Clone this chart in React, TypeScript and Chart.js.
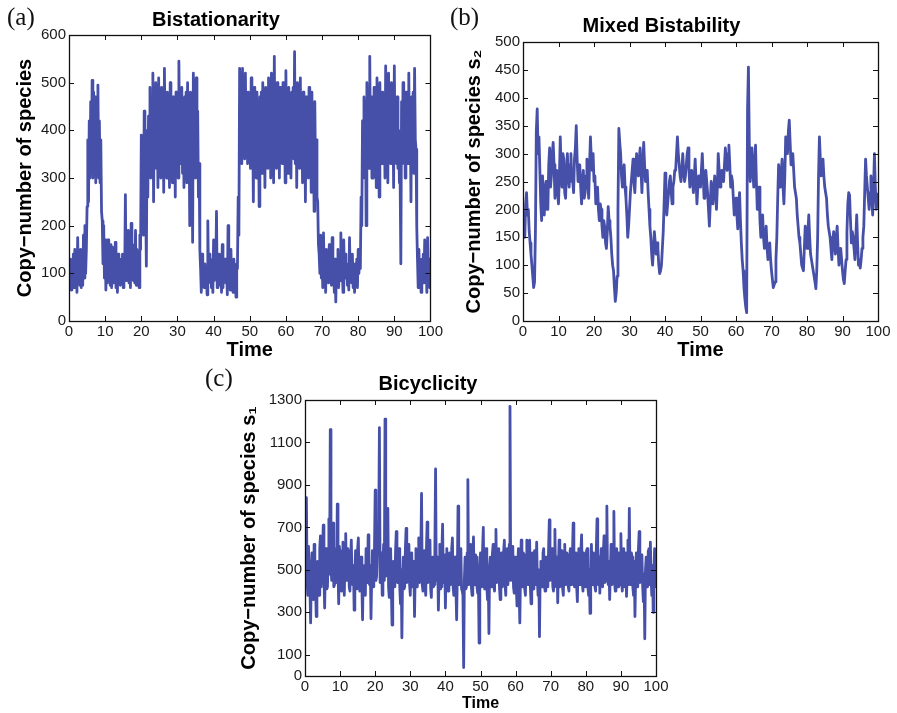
import React, { useEffect, useRef } from 'react';
import { Chart, registerables } from 'chart.js';

Chart.register(...registerables);

const SANS = "'Liberation Sans', Arial, Helvetica, sans-serif";
const SERIF = "'Liberation Serif', 'Times New Roman', serif";
const LINE_COLOR = '#4750a9';
const TICK_COLOR = '#1a1a1a';

// ---------- shared ----------
const TIME_TICKS = [0, 10, 20, 30, 40, 50, 60, 70, 80, 90, 100];
const X_LABEL = 'Time';

// ---------- panel (a) ----------
const A_TITLE = 'Bistationarity';
const A_Y_LABEL = 'Copy−number of species';
const A_Y_TICKS = [0, 100, 200, 300, 400, 500, 600];
// time 0..100, step 0.2
const A_VALUES = [
  120, 70, 130, 65, 110, 75, 140, 70, 150, 85, 130, 60, 175, 80, 140, 75, 150, 70, 130, 75,
  180, 90, 200, 100, 150, 240, 380, 250, 420, 300, 460, 320, 505, 300, 480, 330, 470, 290, 450, 310,
  495, 300, 420, 290, 380, 230, 210, 120, 200, 90, 170, 65, 140, 80, 170, 95, 150, 75, 160, 70,
  155, 80, 140, 85, 165, 70, 120, 60, 140, 90, 130, 75, 130, 80, 140, 70, 110, 90, 265, 85,
  150, 100, 190, 80, 130, 70, 205, 95, 160, 85, 150, 80, 190, 75, 150, 110, 120, 70, 180, 150,
  390, 220, 300, 180, 440, 200, 260, 115, 400, 260, 430, 310, 490, 300, 470, 330, 520, 250, 460, 340,
  500, 320, 470, 280, 510, 330, 480, 300, 490, 310, 460, 270, 530, 340, 470, 300, 480, 300, 450, 280,
  500, 320, 460, 290, 470, 290, 430, 260, 480, 330, 470, 300, 545, 360, 480, 330, 490, 310, 460, 280,
  470, 320, 480, 290, 500, 330, 420, 200, 480, 280, 400, 165, 520, 340, 470, 300, 510, 330, 440, 260,
  330, 150, 110, 60, 140, 80, 120, 70, 120, 75, 100, 55, 210, 80, 140, 120, 130, 70, 110, 60,
  170, 85, 150, 90, 230, 70, 130, 110, 140, 75, 120, 60, 160, 70, 130, 90, 130, 80, 110, 55,
  200, 90, 130, 65, 150, 80, 110, 60, 130, 75, 90, 50, 120, 110, 260, 180, 530, 360, 490, 330,
  530, 350, 490, 340, 520, 360, 480, 330, 480, 340, 470, 320, 510, 330, 420, 250, 490, 350, 470, 300,
  480, 300, 430, 240, 470, 340, 480, 310, 500, 330, 450, 280, 490, 350, 470, 320, 510, 340, 460, 300,
  520, 340, 470, 290, 555, 360, 480, 320, 500, 340, 470, 300, 490, 350, 480, 330, 500, 330, 460, 290,
  525, 350, 470, 310, 490, 340, 460, 300, 480, 360, 490, 340, 565, 330, 450, 280, 500, 350, 480, 320,
  510, 330, 460, 290, 480, 300, 430, 250, 470, 340, 460, 300, 490, 320, 450, 270, 480, 300, 420, 230,
  460, 300, 380, 260, 250, 160, 140, 100, 180, 90, 130, 70, 185, 100, 120, 60, 150, 90, 140, 80,
  160, 90, 130, 75, 175, 80, 110, 60, 130, 40, 120, 80, 150, 70, 120, 85, 185, 100, 110, 60,
  170, 95, 140, 90, 120, 75, 110, 65, 175, 95, 130, 80, 140, 70, 110, 60, 120, 80, 130, 70,
  150, 100, 140, 110, 260, 200, 420, 330, 470, 300, 460, 200, 500, 350, 470, 320, 555, 360, 470, 300,
  450, 300, 490, 330, 470, 280, 510, 340, 440, 260, 500, 350, 480, 330, 480, 340, 470, 300, 535, 350,
  460, 290, 520, 350, 480, 330, 500, 330, 460, 280, 535, 350, 470, 330, 470, 320, 400, 290, 300, 120,
  460, 330, 500, 340, 470, 300, 480, 350, 480, 330, 520, 330, 440, 250, 470, 330, 480, 310, 530, 380,
  360, 200, 130, 70, 150, 80, 110, 60, 130, 80, 140, 80, 170, 90, 120, 60, 175, 100, 130, 70,
  100,
];

// ---------- panel (b) ----------
const B_TITLE = 'Mixed Bistability';
const B_Y_LABEL = 'Copy−number of species s₂';
const B_Y_TICKS = [0, 50, 100, 150, 200, 250, 300, 350, 400, 450, 500];
// time 0..100, step 0.25
const B_VALUES = [
  190, 170, 150, 210, 230, 190, 200, 160, 140, 120, 100, 80, 60, 70, 160, 340, 380, 300, 330, 270,
  210, 180, 260, 220, 190, 240, 250, 200, 200, 280, 310, 240, 260, 300, 320, 280, 220, 250, 270, 230,
  210, 260, 330, 270, 240, 300, 290, 230, 220, 270, 300, 260, 240, 280, 300, 250, 250, 230, 290, 310,
  350, 290, 250, 270, 280, 240, 210, 250, 270, 220, 230, 260, 290, 250, 220, 280, 330, 290, 270, 300,
  250, 260, 210, 230, 240, 200, 180, 210, 200, 170, 150, 180, 170, 140, 130, 160, 205, 180, 170, 150,
  120, 100, 90, 60, 35, 50, 80, 200, 345, 320, 300, 260, 240, 270, 280, 240, 220, 190, 150, 170,
  200, 230, 250, 270, 290, 250, 230, 270, 300, 270, 260, 290, 310, 270, 230, 280, 320, 280, 250, 270,
  270, 230, 200, 170, 150, 120, 100, 130, 160, 140, 120, 140, 130, 100, 85, 90, 100, 130, 160, 210,
  265, 220, 190, 210, 230, 250, 260, 230, 210, 240, 250, 270, 270, 300, 330, 300, 280, 260, 250, 270,
  300, 270, 250, 260, 280, 300, 310, 270, 240, 260, 270, 250, 230, 260, 290, 250, 210, 240, 260, 250,
  240, 270, 300, 260, 220, 250, 270, 250, 230, 200, 170, 210, 250, 230, 210, 240, 260, 230, 200, 240,
  300, 270, 240, 250, 270, 260, 250, 280, 310, 290, 270, 300, 315, 280, 240, 260, 250, 220, 190, 210,
  220, 190, 165, 200, 230, 180, 140, 110, 90, 60, 40, 25, 15, 380, 455, 320, 250, 280, 310, 270,
  240, 280, 315, 250, 200, 220, 240, 180, 150, 170, 190, 150, 130, 150, 170, 130, 110, 120, 140, 110,
  90, 75, 60, 65, 70, 110, 150, 220, 280, 260, 240, 270, 290, 240, 210, 260, 330, 310, 300, 340,
  360, 320, 280, 290, 300, 270, 240, 230, 220, 190, 170, 150, 140, 120, 100, 95, 90, 130, 170, 150,
  130, 160, 190, 150, 120, 110, 100, 90, 80, 70, 58, 90, 150, 260, 330, 290, 260, 270, 290, 260,
  240, 230, 220, 190, 170, 160, 150, 130, 110, 140, 160, 140, 120, 150, 170, 130, 100, 120, 130, 110,
  90, 75, 67, 90, 110, 160, 210, 230, 225, 180, 140, 160, 150, 130, 110, 150, 190, 140, 100, 110,
  95, 110, 130, 150, 170, 230, 290, 260, 240, 220, 200, 230, 260, 220, 190, 240, 300, 240, 200, 210,
  230,
];

// ---------- panel (c) ----------
const C_TITLE = 'Bicyclicity';
const C_Y_LABEL = 'Copy−number of species s₁';
const C_Y_TICKS = [0, 100, 300, 500, 700, 900, 1100, 1300];
// time 0..100, step 0.2
const C_VALUES = [
  730, 520, 840, 450, 380, 610, 500, 420, 250, 470, 580, 400, 360, 620, 560, 430, 280, 490, 540, 410,
  380, 600, 660, 420, 420, 590, 710, 460, 320, 520, 600, 410, 420, 560, 740, 480, 1160, 520, 450, 610,
  720, 420, 430, 580, 600, 440, 810, 500, 340, 610, 560, 410, 400, 590, 630, 430, 380, 560, 670, 450,
  450, 600, 580, 420, 400, 560, 640, 440, 430, 520, 310, 480, 590, 410, 420, 600, 650, 450, 400, 560,
  560, 430, 265, 500, 520, 410, 380, 600, 600, 440, 665, 480, 430, 520, 270, 460, 590, 420, 440, 610,
  875, 450, 470, 590, 600, 700, 1170, 440, 500, 580, 380, 520, 620, 450, 1210, 470, 480, 560, 790, 420,
  370, 560, 600, 410, 240, 500, 540, 420, 430, 590, 680, 450, 440, 580, 600, 420, 340, 500, 180, 470,
  560, 410, 420, 600, 695, 440, 450, 580, 620, 430, 380, 560, 580, 420, 440, 540, 280, 480, 600, 430,
  420, 590, 650, 440, 470, 580, 860, 430, 400, 560, 590, 420, 380, 600, 725, 440, 450, 580, 640, 410,
  370, 540, 560, 420, 430, 600, 975, 450, 480, 560, 310, 470, 620, 410, 420, 590, 715, 440, 450, 570,
  320, 500, 600, 420, 400, 570, 580, 430, 440, 600, 650, 420, 380, 560, 560, 410, 265, 480, 800, 430,
  430, 580, 600, 410, 400, 380, 40, 450, 560, 410, 420, 580, 925, 430, 450, 590, 620, 420, 380, 560,
  655, 440, 430, 570, 560, 420, 390, 460, 155, 520, 580, 420, 440, 600, 700, 430, 410, 560, 600, 420,
  360, 480, 200, 520, 560, 420, 430, 580, 620, 420, 400, 560, 690, 440, 450, 590, 600, 420, 360, 540,
  580, 420, 420, 590, 640, 430, 380, 560, 600, 430, 480, 620, 1270, 450, 460, 580, 610, 420, 390, 560,
  560, 420, 330, 520, 600, 410, 250, 480, 640, 430, 420, 580, 570, 410, 380, 560, 640, 440, 430, 590,
  640, 420, 340, 540, 580, 420, 410, 590, 560, 430, 630, 450, 380, 500, 185, 470, 540, 420, 420, 580,
  600, 430, 400, 560, 560, 420, 440, 600, 735, 450, 460, 580, 600, 420, 400, 570, 690, 440, 420, 560,
  345, 520, 640, 420, 430, 590, 580, 410, 380, 560, 620, 430, 440, 580, 560, 420, 400, 560, 600, 430,
  460, 580, 720, 440, 420, 570, 580, 420, 350, 520, 600, 430, 430, 590, 665, 440, 400, 580, 560, 420,
  440, 590, 600, 420, 380, 500, 295, 480, 620, 430, 450, 580, 560, 420, 400, 600, 740, 450, 430, 560,
  390, 540, 600, 430, 420, 580, 660, 440, 450, 600, 800, 460, 430, 540, 360, 500, 620, 430, 440, 590,
  775, 440, 400, 570, 600, 430, 420, 580, 560, 430, 670, 450, 400, 560, 600, 420, 440, 580, 375, 500,
  640, 430, 790, 460, 430, 580, 560, 420, 380, 540, 280, 470, 580, 430, 420, 600, 680, 440, 460, 570,
  560, 420, 350, 480, 175, 500, 560, 420, 420, 590, 600, 430, 630, 460, 380, 520, 300, 480, 600, 420,
  450,
];

// ---------- drawing helpers ----------
const framePlugin = {
  id: 'matlabFrame',
  afterDatasetsDraw(chart: any) {
    const { ctx, chartArea, scales } = chart;
    const { left, right, top, bottom } = chartArea;
    const x = scales.x;
    const y = scales.y;
    const L = 5;
    ctx.save();
    ctx.strokeStyle = '#111111';
    ctx.lineWidth = 1;
    ctx.beginPath();
    x.ticks.forEach((t: any) => {
      const px = Math.round(x.getPixelForValue(t.value)) + 0.5;
      ctx.moveTo(px, bottom);
      ctx.lineTo(px, bottom - L);
      ctx.moveTo(px, top);
      ctx.lineTo(px, top + L);
    });
    y.ticks.forEach((t: any) => {
      const py = Math.round(y.getPixelForValue(t.value)) + 0.5;
      ctx.moveTo(left, py);
      ctx.lineTo(left + L, py);
      ctx.moveTo(right, py);
      ctx.lineTo(right - L, py);
    });
    ctx.stroke();
    ctx.lineWidth = 1.3;
    ctx.strokeRect(Math.round(left) + 0.5, Math.round(top) + 0.5, Math.round(right - left), Math.round(bottom - top));
    ctx.restore();
  },
};

type Layout = {
  yWidth: number;
  xHeight: number;
  padRight: number;
  titleTop: number;
  titleBottom: number;
  yTitlePad: number;
  xTitleSize: number;
  xTitlePadBottom: number;
};

function makeConfig(
  title: string,
  yLabel: string,
  values: number[],
  yTicks: number[],
  lay: Layout
): any {
  const n = values.length;
  const points = values.map((v, i) => ({ x: (i * 100) / (n - 1), y: v }));
  const yMax = yTicks[yTicks.length - 1];
  return {
    type: 'line',
    data: {
      datasets: [
        {
          data: points,
          borderColor: LINE_COLOR,
          borderWidth: 2.8,
          borderJoinStyle: 'round',
          pointRadius: 0,
          tension: 0,
          fill: false,
        },
      ],
    },
    options: {
      responsive: false,
      animation: false,
      events: [],
      layout: { padding: { left: 0, right: lay.padRight, top: 0, bottom: 0 } },
      plugins: {
        legend: { display: false },
        tooltip: { enabled: false },
        title: {
          display: true,
          text: title,
          color: '#000000',
          font: { family: SANS, size: 20, weight: 'bold', lineHeight: 1.2 },
          padding: { top: lay.titleTop, bottom: lay.titleBottom },
        },
      },
      scales: {
        x: {
          type: 'linear',
          min: 0,
          max: 100,
          afterBuildTicks: (s: any) => {
            s.ticks = TIME_TICKS.map((v) => ({ value: v }));
          },
          afterFit: (s: any) => {
            s.height = lay.xHeight;
          },
          grid: { display: false, drawTicks: false, tickLength: 0 },
          border: { display: false },
          ticks: {
            autoSkip: false,
            maxRotation: 0,
            padding: 2,
            color: TICK_COLOR,
            font: { family: SANS, size: 15 },
            callback: (v: any) => String(v),
          },
          title: {
            display: true,
            text: X_LABEL,
            color: '#000000',
            font: { family: SANS, size: lay.xTitleSize, weight: 'bold', lineHeight: 1.2 },
            padding: { top: 0, bottom: lay.xTitlePadBottom },
          },
        },
        y: {
          type: 'linear',
          min: 0,
          max: yMax,
          afterBuildTicks: (s: any) => {
            s.ticks = yTicks.map((v) => ({ value: v }));
          },
          afterFit: (s: any) => {
            s.width = lay.yWidth;
          },
          grid: { display: false, drawTicks: false, tickLength: 0 },
          border: { display: false },
          ticks: {
            autoSkip: false,
            padding: 3,
            color: TICK_COLOR,
            font: { family: SANS, size: 15 },
            callback: (v: any) => String(v),
          },
          title: {
            display: true,
            text: yLabel,
            color: '#000000',
            font: { family: SANS, size: 20, weight: 'bold', lineHeight: 1.2 },
            padding: { top: lay.yTitlePad, bottom: 0 },
          },
        },
      },
    },
    plugins: [framePlugin],
  };
}

const panelLabelStyle = (left: number, top: number): React.CSSProperties => ({
  position: 'absolute',
  left,
  top,
  fontFamily: SERIF,
  fontSize: 25,
  lineHeight: '25px',
  color: '#111',
  margin: 0,
});

export default function App() {
  const aRef = useRef<HTMLCanvasElement>(null);
  const bRef = useRef<HTMLCanvasElement>(null);
  const cRef = useRef<HTMLCanvasElement>(null);

  useEffect(() => {
    const charts: Chart[] = [];
    if (aRef.current) {
      charts.push(
        new Chart(
          aRef.current,
          makeConfig(A_TITLE, A_Y_LABEL, A_VALUES, A_Y_TICKS, {
            yWidth: 69,
            xHeight: 41,
            padRight: 13,
            titleTop: 8,
            titleBottom: 3,
            yTitlePad: 13,
            xTitleSize: 20,
            xTitlePadBottom: 0,
          })
        )
      );
    }
    if (bRef.current) {
      charts.push(
        new Chart(
          bRef.current,
          makeConfig(B_TITLE, B_Y_LABEL, B_VALUES, B_Y_TICKS, {
            yWidth: 78,
            xHeight: 41,
            padRight: 19,
            titleTop: 14,
            titleBottom: 4,
            yTitlePad: 17,
            xTitleSize: 20,
            xTitlePadBottom: 0,
          })
        )
      );
    }
    if (cRef.current) {
      charts.push(
        new Chart(
          cRef.current,
          makeConfig(C_TITLE, C_Y_LABEL, C_VALUES, C_Y_TICKS, {
            yWidth: 105,
            xHeight: 37,
            padRight: 24,
            titleTop: 10,
            titleBottom: 4,
            yTitlePad: 37,
            xTitleSize: 16,
            xTitlePadBottom: 0,
          })
        )
      );
    }
    return () => {
      charts.forEach((c) => c.destroy());
    };
  }, []);

  return (
    <div style={{ position: 'absolute', left: 0, top: 0, width: 897, height: 713, background: '#ffffff', overflow: 'hidden' }}>
      <canvas ref={aRef} width={445} height={362} style={{ position: 'absolute', left: 0, top: 0 }} />
      <canvas ref={bRef} width={452} height={362} style={{ position: 'absolute', left: 445, top: 0 }} />
      <canvas ref={cRef} width={480} height={351} style={{ position: 'absolute', left: 200, top: 362 }} />
      <div style={panelLabelStyle(7, 4)}>(a)</div>
      <div style={panelLabelStyle(450, 4)}>(b)</div>
      <div style={panelLabelStyle(205, 365)}>(c)</div>
    </div>
  );
}
